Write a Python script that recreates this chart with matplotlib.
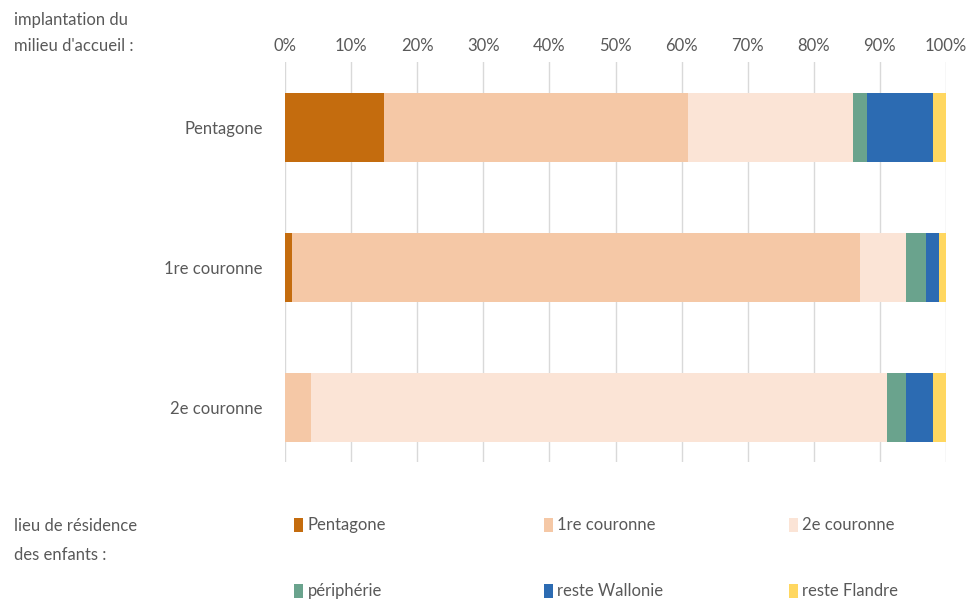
import numpy as np
import matplotlib.pyplot as plt
from matplotlib.ticker import PercentFormatter

plt.rcParams['font.family'] = ['Lato', 'DejaVu Sans']

rows = ["Pentagone", "1re couronne", "2e couronne"]
series = ["Pentagone", "1re couronne", "2e couronne", "périphérie", "reste Wallonie", "reste Flandre"]
pentagone = [15, 1, 0]
couronne1 = [46, 86, 4]
couronne2 = [25, 7, 87]
peripherie = [2, 3, 3]
wallonie = [10, 2, 4]
flandre = [2, 1, 2]
colors = ["#C46C0E", "#F5C8A6", "#FBE4D6", "#6AA38D", "#2C6BB2", "#FFD760"]

grey = "#595959"
fs = 12
fig = plt.figure(figsize=(9.68, 6.01), dpi=100)
ax = fig.add_axes([0.2944, 0.2313, 0.6829, 0.6655])

values = [pentagone, couronne1, couronne2, peripherie, wallonie, flandre]
y = np.arange(len(rows))
left = np.zeros(len(rows))
handles = []
for name, vals, c in zip(series, values, colors):
    h = ax.barh(y, vals, left=left, height=0.49, color=c, label=name, zorder=2)
    handles.append(h)
    left += np.array(vals)

ax.set_xlim(0, 100)
ax.set_ylim(2.386, -0.464)
ax.set_xticks(np.arange(0, 101, 10))
ax.xaxis.set_major_formatter(PercentFormatter(decimals=0))
ax.xaxis.tick_top()
ax.tick_params(axis="x", length=0, pad=6, labelsize=fs, labelcolor=grey)
ax.tick_params(axis="y", length=0, pad=16, labelsize=fs, labelcolor=grey)
ax.set_yticks(y)
ax.set_yticklabels(rows)
ax.grid(axis="x", color="#D9D9D9", linewidth=1, zorder=0)
for s in ax.spines.values():
    s.set_visible(False)

fig.text(0.014, 0.980, "implantation du\nmilieu d'accueil :", fontsize=fs, color=grey,
         va="top", ha="left", linespacing=1.75)
fig.text(0.014, 0.138, "lieu de résidence\ndes enfants :", fontsize=fs, color=grey,
         va="top", ha="left", linespacing=2.0)

# one small legend per column, two entries each
for k, xpos in enumerate([0.304, 0.562, 0.815]):
    idx = [k, k + 3]
    leg = fig.legend([handles[i] for i in idx], [series[i] for i in idx],
                     loc="upper left", bbox_to_anchor=(xpos, 0.139),
                     frameon=False, fontsize=fs, handlelength=0.55, handleheight=0.9,
                     handletextpad=0.25, labelspacing=3.0,
                     borderaxespad=0, borderpad=0)
    for t in leg.get_texts():
        t.set_color(grey)

fig.savefig("out.png", dpi=100)
